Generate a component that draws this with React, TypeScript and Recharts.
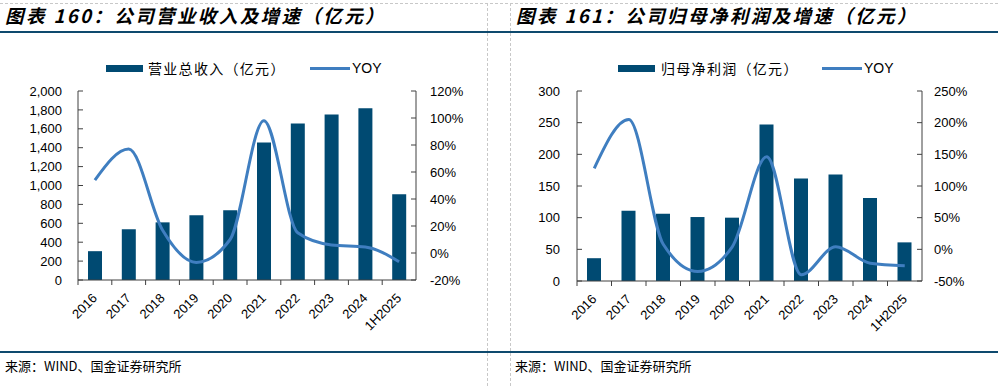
import React from 'react';
import { ComposedChart, Bar, Line, XAxis, YAxis } from 'recharts';

const categories = ['2016', '2017', '2018', '2019', '2020', '2021', '2022', '2023', '2024', '1H2025'];
const revenue = [305, 537, 610, 684, 737, 1456, 1656, 1751, 1818, 908];
const revenueYoy = [54, 77, 17, -7, 10, 98, 15, 6, 4.5, -6.5];
const profit = [36, 111, 106, 101, 100, 247, 162, 168, 131, 61];
const profitYoy = [128, 205, 8, -35, 4, 146, -40, 4, -22, -26];

const revTicks = [0, 200, 400, 600, 800, 1000, 1200, 1400, 1600, 1800, 2000];
const revYoyTicks = [-20, 0, 20, 40, 60, 80, 100, 120];
const profTicks = [0, 50, 100, 150, 200, 250, 300];
const profYoyTicks = [-50, 0, 50, 100, 150, 200, 250];

const leftTitle = '图表 160：公司营业收入及增速（亿元）';
const rightTitle = '图表 161：公司归母净利润及增速（亿元）';
const leftBarName = '营业总收入（亿元）';
const rightBarName = '归母净利润（亿元）';
const lineName = 'YOY';
const source = '来源：WIND、国金证券研究所';

const leftData = categories.map((c, i) => ({ name: c, v: revenue[i], y: revenueYoy[i] }));
const rightData = categories.map((c, i) => ({ name: c, v: profit[i], y: profitYoy[i] }));

const BAR = '#004A72';
const LINE = '#3F7EC0';
const AXIS = '#404040';
const DARK = '#0E4A6E';
const LATIN = '"Liberation Sans", Arial, sans-serif';
const CJK = '"Noto Sans CJK SC", sans-serif';

const XTick = (props: any) => {
  const { x, y, payload } = props;
  const off = payload && payload.offset != null ? payload.offset : 17;
  return (
    <g>
      <line x1={x - off} x2={x - off} y1={y} y2={y + 5} stroke={AXIS} strokeWidth={1} />
      <text
        x={x + 3}
        y={y + 19}
        textAnchor="end"
        fontSize={13}
        fontFamily={LATIN}
        fill="#000"
        transform={`rotate(-45, ${x + 3}, ${y + 19})`}
      >
        {payload.value}
      </text>
    </g>
  );
};

const fmtThousands = (v: number) => v.toLocaleString('en-US');
const fmtPct = (v: number) => `${v}%`;

const tickStyle = { fontSize: 13, fontFamily: LATIN, fill: '#000' };

function Legend({ left, barName, textLeft, lineLeft, yoyLeft }: any) {
  return (
    <>
      <div style={{ position: 'absolute', left, top: 65, width: 37, height: 7, background: BAR }} />
      <div style={{ position: 'absolute', left: textLeft, top: 58, fontFamily: CJK, fontSize: 14, letterSpacing: 1.3, lineHeight: '20px', color: '#000', whiteSpace: 'nowrap' }}>{barName}</div>
      <div style={{ position: 'absolute', left: lineLeft, top: 67, width: 40, height: 3, background: LINE }} />
      <div style={{ position: 'absolute', left: yoyLeft, top: 58, fontFamily: LATIN, fontSize: 14, lineHeight: '20px', color: '#000' }}>{lineName}</div>
    </>
  );
}

const titleStyle: React.CSSProperties = {
  position: 'absolute',
  top: 3,
  fontFamily: CJK,
  fontWeight: 700,
  fontStyle: 'italic',
  fontSize: 18.5,
  letterSpacing: 2.4,
  lineHeight: '24px',
  color: '#000',
  whiteSpace: 'nowrap',
};

export default function App() {
  return (
    <div style={{ position: 'absolute', left: 0, top: 0, width: 998, height: 386, background: '#fff', overflow: 'hidden' }}>
      <div style={{ position: 'absolute', left: 0, top: 3, width: 998, height: 0, borderTop: '1px dashed #c8c8c8' }} />
      <div style={{ position: 'absolute', left: 487, top: 3, width: 0, height: 383, borderLeft: '1px dashed #c8c8c8' }} />
      <div style={{ position: 'absolute', left: 510, top: 3, width: 0, height: 383, borderLeft: '1px dashed #c8c8c8' }} />
      <div style={{ position: 'absolute', left: 0, top: 31, width: 998, height: 2, background: DARK }} />
      <div style={{ position: 'absolute', left: 0, top: 351, width: 998, height: 2, background: DARK }} />
      <div style={{ ...titleStyle, left: 5 }}>{leftTitle}</div>
      <div style={{ ...titleStyle, left: 516 }}>{rightTitle}</div>
      <div style={{ position: 'absolute', left: 5, top: 357, fontFamily: CJK, fontSize: 13, lineHeight: '18px', color: '#000', whiteSpace: 'nowrap' }}>{source}</div>
      <div style={{ position: 'absolute', left: 515, top: 357, fontFamily: CJK, fontSize: 13, lineHeight: '18px', color: '#000', whiteSpace: 'nowrap' }}>{source}</div>

      <Legend left={106} barName={leftBarName} textLeft={148} lineLeft={310} yoyLeft={352} />
      <Legend left={618} barName={rightBarName} textLeft={661} lineLeft={822} yoyLeft={864} />

      <div style={{ position: 'absolute', left: 0, top: 0 }}>
        <ComposedChart width={488} height={340} data={leftData} margin={{ top: 91, right: 0, bottom: 0, left: 0 }}>
          <XAxis dataKey="name" height={60} stroke={AXIS} tickLine={false} tickSize={0} tickMargin={0} tick={<XTick />} interval={0} />
          <YAxis yAxisId="l" width={78} domain={[0, 2000]} ticks={revTicks} tickFormatter={fmtThousands} stroke={AXIS} tickSize={-5} tickMargin={21} tick={tickStyle} interval={0} />
          <YAxis yAxisId="r" orientation="right" width={72} domain={[-20, 120]} ticks={revYoyTicks} tickFormatter={fmtPct} stroke={AXIS} tickSize={-5} tickMargin={19} tick={tickStyle} interval={0} />
          <Bar yAxisId="l" dataKey="v" fill={BAR} barSize={14} isAnimationActive={false} />
          <Line yAxisId="r" dataKey="y" type="monotone" stroke={LINE} strokeWidth={3} dot={false} isAnimationActive={false} />
        </ComposedChart>
      </div>

      <div style={{ position: 'absolute', left: 500, top: 0 }}>
        <ComposedChart width={498} height={341} data={rightData} margin={{ top: 91, right: 0, bottom: 0, left: 0 }}>
          <XAxis dataKey="name" height={60} stroke={AXIS} tickLine={false} tickSize={0} tickMargin={0} tick={<XTick />} interval={0} />
          <YAxis yAxisId="l" width={77} domain={[0, 300]} ticks={profTicks} stroke={AXIS} tickSize={-5} tickMargin={22} tick={tickStyle} interval={0} />
          <YAxis yAxisId="r" orientation="right" width={76} domain={[-50, 250]} ticks={profYoyTicks} tickFormatter={fmtPct} stroke={AXIS} tickSize={-5} tickMargin={17} tick={tickStyle} interval={0} />
          <Bar yAxisId="l" dataKey="v" fill={BAR} barSize={14} isAnimationActive={false} />
          <Line yAxisId="r" dataKey="y" type="monotone" stroke={LINE} strokeWidth={3} dot={false} isAnimationActive={false} />
        </ComposedChart>
      </div>
    </div>
  );
}
